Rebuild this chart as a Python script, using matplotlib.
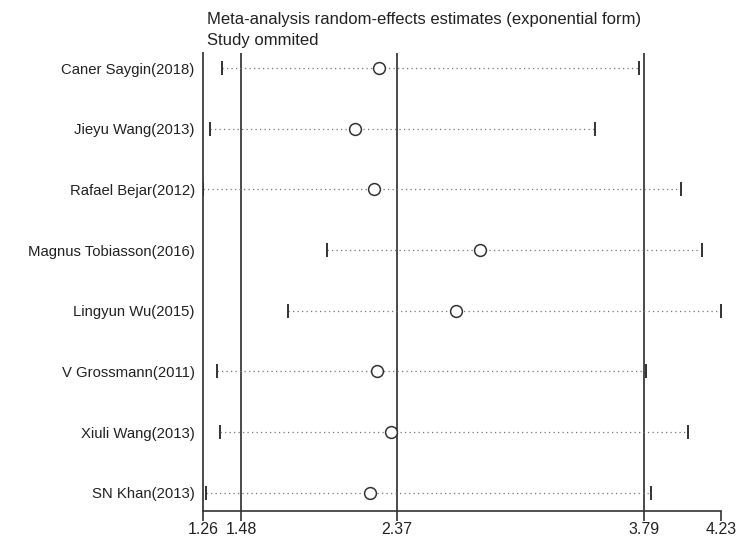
import matplotlib
matplotlib.use('Agg')
import matplotlib.pyplot as plt

plt.rcParams['font.family'] = ['Liberation Sans', 'DejaVu Sans']

studies = ['Caner Saygin(2018)', 'Jieyu Wang(2013)', 'Rafael Bejar(2012)',
           'Magnus Tobiasson(2016)', 'Lingyun Wu(2015)', 'V Grossmann(2011)',
           'Xiuli Wang(2013)', 'SN Khan(2013)']
est = [2.27, 2.13, 2.24, 2.85, 2.71, 2.26, 2.34, 2.22]
lower = [1.37, 1.30, 1.26, 1.97, 1.75, 1.34, 1.36, 1.28]
upper = [3.76, 3.51, 4.00, 4.12, 4.23, 3.80, 4.04, 3.83]

overall = [1.48, 2.37, 3.79]
xticks = [1.26, 1.48, 2.37, 3.79, 4.23]

fig = plt.figure(figsize=(7.42, 5.38), dpi=100)
ax = fig.add_axes([0.2736, 0.0502, 0.6981, 0.8513])

rows = list(range(1, len(studies) + 1))

for x in overall:
    ax.axvline(x, color='#4a4a4a', lw=1.4, zorder=1)

for i, r in enumerate(rows):
    ax.plot([lower[i], upper[i]], [r, r], color='#777777', lw=0.9,
            linestyle=(0, (1, 2.6)), zorder=2)
    ax.plot([lower[i], upper[i]], [r, r], linestyle='none', marker='|',
            markersize=10, markeredgewidth=1.4, color='#333333', zorder=3)
    ax.plot(est[i], r, marker='o', markersize=8.5, markerfacecolor='white',
            markeredgecolor='#333333', markeredgewidth=1.1, zorder=4)

ax.set_xlim(1.26, 4.23)
ax.set_ylim(8.3, 0.75)
ax.set_yticks(rows)
ax.set_yticklabels(studies, fontsize=10.7, color='#222222')
ax.tick_params(axis='y', length=0, pad=6)
ax.set_xticks(xticks)
ax.set_xticklabels([f'{v:.2f}' for v in xticks], fontsize=11.5, color='#222222')
ax.tick_params(axis='x', length=7, width=1.2, color='#333333', pad=1)

for s in ['top', 'right']:
    ax.spines[s].set_visible(False)
ax.spines['left'].set_color('#4a4a4a')
ax.spines['left'].set_linewidth(1.4)
ax.spines['bottom'].set_color('#333333')
ax.spines['bottom'].set_linewidth(1.2)

fig.text(0.279, 0.978, 'Meta-analysis random-effects estimates (exponential form)',
         fontsize=12, color='#222222', va='top', ha='left')
fig.text(0.279, 0.939, 'Study ommited', fontsize=12, color='#222222',
         va='top', ha='left')

fig.savefig('out.png', dpi=100)
